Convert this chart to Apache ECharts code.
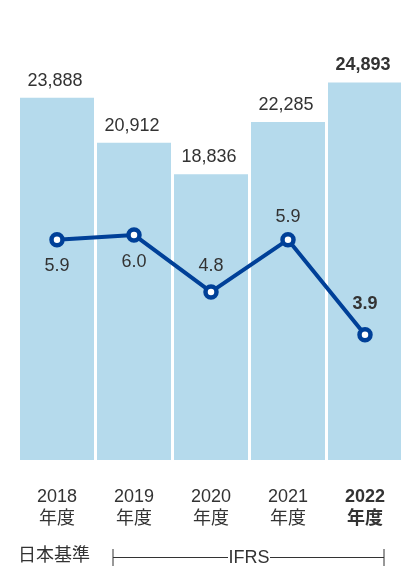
<html lang="ja">

<head>
  <meta charset="utf-8">
  <title>chart</title>
  <script src="https://cdn.jsdelivr.net/npm/echarts@6/dist/echarts.min.js"></script>
  <style>
    html, body { margin: 0; padding: 0; background: #fff; overflow: hidden; }
    /* a bit wider than the window: the last bar runs off the right edge */
    #main { width: 404px; height: 569px; }
  </style>
</head>

<body>
  <div id="main"></div>

<script>

  var years = ['2018', '2019', '2020', '2021', '2022'];
  var sales = [23888, 20912, 18836, 22285, 24893];
  var margin = [5.9, 6.0, 4.8, 5.9, 3.9];
  // where each ratio label sits relative to its point
  var marginLabelPos = ['bottom', 'bottom', 'top', 'top', 'top'];
  var marginLabelGap = [10, 10, 9, 6, 14];

  var font = '"Liberation Sans", "Noto Sans CJK JP", sans-serif';
  var textColor = '#333';
  var last = years.length - 1;

  var plot = echarts.init(document.getElementById('main'));

  var barData = sales.map(function (v, i) {
    return {
      value: v,
      label: { fontWeight: i === last ? 'bold' : 'normal' }
    };
  });

  var lineData = margin.map(function (v, i) {
    return {
      value: v,
      label: {
        position: marginLabelPos[i],
        distance: marginLabelGap[i],
        fontWeight: i === last ? 'bold' : 'normal'
      }
    };
  });

  option = {
    animation: false,
    grid: { left: 18.5, width: 385, top: 5, height: 455 },
    xAxis: {
      type: 'category',
      data: years,
      axisLine: { show: false },
      axisTick: { show: false },
      axisLabel: {
        margin: 26,
        interval: 0,
        formatter: function (v, i) {
          var s = i === last ? 'b' : 'n';
          return '{' + s + '|' + v + '}\n{' + s + '|年度}';
        },
        rich: {
          n: { fontSize: 18, lineHeight: 22, color: textColor, fontFamily: font },
          b: { fontSize: 18, lineHeight: 22, color: textColor, fontFamily: font, fontWeight: 'bold' }
        }
      }
    },
    yAxis: [{
      type: 'value',
      min: 0,
      max: 30000,
      show: false
    }, {
      type: 'value',
      min: 1.263,
      max: 10.84,
      show: false
    }],
    series: [{
      type: 'bar',
      data: barData,
      barCategoryGap: 3,
      itemStyle: { color: '#b5daec' },
      label: {
        show: true,
        position: 'top',
        distance: 8,
        fontSize: 18,
        color: textColor,
        fontFamily: font,
        offset: [-2, 0],
        formatter: function (p) { return p.value.toLocaleString('en-US'); }
      }
    }, {
      type: 'line',
      yAxisIndex: 1,
      data: lineData,
      symbol: 'circle',
      symbolSize: 11,
      lineStyle: { color: '#004098', width: 4 },
      itemStyle: { color: '#fff', borderColor: '#004098', borderWidth: 4.5 },
      label: {
        show: true,
        fontSize: 18,
        color: textColor,
        fontFamily: font,
        formatter: function (p) { return p.value.toFixed(1); }
      }
    }],
    graphic: [
      { type: 'text', left: 18, top: 547, style: { text: '日本基準', fontSize: 18, fill: textColor, fontFamily: font } },
      { type: 'line', shape: { x1: 113, y1: 549, x2: 113, y2: 566 }, style: { stroke: '#333', lineWidth: 1 } },
      { type: 'line', shape: { x1: 384, y1: 549, x2: 384, y2: 566 }, style: { stroke: '#333', lineWidth: 1 } },
      { type: 'line', shape: { x1: 113, y1: 557.5, x2: 228, y2: 557.5 }, style: { stroke: '#333', lineWidth: 1 } },
      { type: 'line', shape: { x1: 270, y1: 557.5, x2: 384, y2: 557.5 }, style: { stroke: '#333', lineWidth: 1 } },
      { type: 'text', x: 249, y: 558, style: { text: 'IFRS', fontSize: 18, fill: textColor, fontFamily: font, align: 'center', verticalAlign: 'middle' } }
    ]
  };
  plot.setOption(option);

</script>

</body>

</html>
